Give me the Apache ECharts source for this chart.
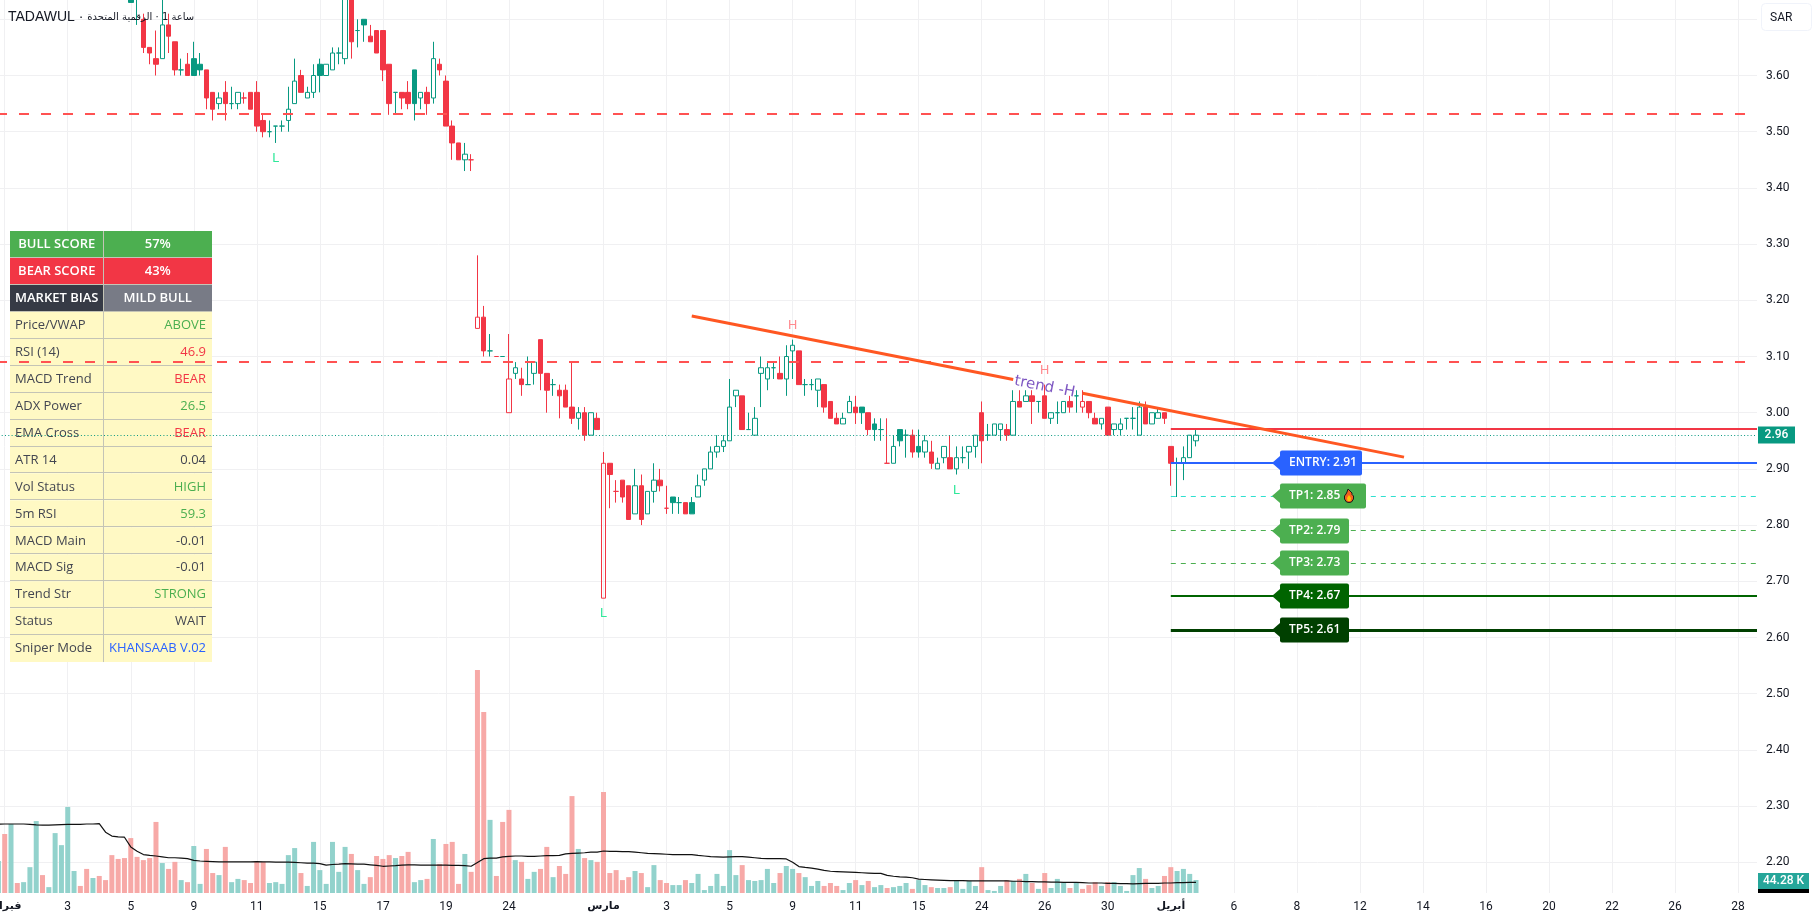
<!DOCTYPE html>
<html>
<head>
<meta charset="utf-8">
<title>TADAWUL</title>
<script src="https://cdn.jsdelivr.net/npm/echarts@6/dist/echarts.min.js"></script>
<style>
  html, body { margin: 0; padding: 0; background: #fff; overflow: hidden; }
  #main { width: 1815px; height: 921px; }
</style>
</head>
<body>
<div id="main"></div>
<script>
var slotCount = 280;

var tickSlots = [1, 11, 21, 31, 41, 51, 61, 71, 81, 96, 106, 116, 126, 136, 146, 156, 166, 176, 186, 196, 206, 216, 226, 236, 246, 256, 266, 276];
var tickTexts = ['فبراير', '3', '5', '9', '11', '15', '17', '19', '24', 'مارس', '3', '5', '9', '11', '15', '24', '26', '30', 'أبريل', '6', '8', '12', '14', '16', '20', '22', '26', '28'];
var monthTexts = ['فبراير', 'مارس', 'أبريل'];

// candles before this slot are above the visible price range
var firstCandleSlot = 21;

// open, close, low, high
var candles = [
  [3.76,3.73,3.73,3.80],[3.76,3.74,3.69,3.78],[3.70,3.65,3.64,3.71],[3.65,3.64,3.62,3.65],[3.63,3.62,3.60,3.68],
  [3.63,3.69,3.63,3.76],[3.69,3.67,3.64,3.71],[3.66,3.61,3.60,3.66],[3.61,3.61,3.60,3.63],[3.62,3.60,3.60,3.64],
  [3.63,3.60,3.60,3.66],[3.62,3.61,3.60,3.64],[3.61,3.56,3.54,3.61],[3.57,3.54,3.52,3.57],[3.55,3.56,3.54,3.57],
  [3.57,3.55,3.52,3.59],[3.55,3.55,3.54,3.58],[3.55,3.57,3.54,3.57],[3.56,3.56,3.55,3.57],[3.57,3.54,3.54,3.57],
  [3.57,3.51,3.50,3.59],[3.52,3.50,3.49,3.53],[3.50,3.50,3.49,3.52],[3.51,3.51,3.48,3.51],[3.51,3.51,3.50,3.52],
  [3.52,3.54,3.50,3.58],[3.55,3.59,3.55,3.63],[3.60,3.57,3.57,3.61],[3.56,3.57,3.56,3.58],[3.57,3.60,3.56,3.62],
  [3.62,3.60,3.57,3.63],[3.60,3.62,3.60,3.62],[3.61,3.64,3.61,3.65],[3.64,3.64,3.62,3.65],[3.63,3.76,3.62,3.78],
  [3.76,3.66,3.63,3.78],[3.68,3.68,3.65,3.70],[3.70,3.69,3.66,3.70],[3.67,3.66,3.66,3.69],[3.68,3.64,3.64,3.68],
  [3.68,3.61,3.59,3.68],[3.62,3.55,3.53,3.62],[3.57,3.57,3.53,3.57],[3.57,3.56,3.54,3.57],[3.57,3.55,3.54,3.59],
  [3.61,3.55,3.52,3.61],[3.56,3.57,3.54,3.57],[3.57,3.55,3.53,3.58],[3.56,3.63,3.55,3.66],[3.62,3.61,3.60,3.63],
  [3.59,3.51,3.51,3.60],[3.51,3.48,3.45,3.52],[3.48,3.45,3.45,3.48],[3.45,3.46,3.43,3.48],[3.45,3.45,3.43,3.46],
  [3.15,3.17,3.15,3.28],[3.17,3.11,3.10,3.19],[3.11,3.11,3.10,3.14],[3.10,3.10,3.10,3.10],[3.10,3.10,3.10,3.10],
  [3.00,3.06,3.00,3.14],[3.07,3.08,3.06,3.09],[3.06,3.05,3.03,3.08],[3.05,3.05,3.05,3.10],[3.07,3.09,3.05,3.09],
  [3.13,3.07,3.04,3.13],[3.07,3.04,3.00,3.07],[3.05,3.05,3.03,3.06],[3.04,3.03,2.99,3.05],[3.04,3.01,3.01,3.05],
  [3.01,2.99,2.98,3.09],[2.99,3.00,2.97,3.01],[3.00,2.96,2.95,3.01],[2.96,3.00,2.96,3.00],[2.99,2.97,2.97,3.00],
  [2.67,2.91,2.67,2.93],[2.91,2.89,2.83,2.91],[2.86,2.86,2.84,2.88],[2.88,2.85,2.84,2.88],[2.87,2.81,2.81,2.87],
  [2.82,2.87,2.82,2.90],[2.87,2.81,2.80,2.89],[2.82,2.86,2.82,2.86],[2.86,2.88,2.84,2.91],[2.88,2.87,2.86,2.90],
  [2.83,2.83,2.82,2.87],[2.85,2.84,2.82,2.85],[2.84,2.84,2.82,2.85],[2.84,2.82,2.82,2.84],[2.84,2.82,2.82,2.85],
  [2.85,2.87,2.85,2.89],[2.88,2.90,2.87,2.90],[2.90,2.93,2.90,2.94],[2.93,2.94,2.92,2.96],[2.94,2.95,2.93,2.96],
  [2.95,3.01,2.95,3.06],[3.03,3.04,3.01,3.04],[3.03,2.97,2.97,3.03],[2.97,2.97,2.97,3.00],[2.96,2.99,2.96,3.01],
  [3.07,3.08,3.01,3.10],[3.06,3.08,3.04,3.09],[3.08,3.08,3.06,3.09],[3.07,3.06,3.06,3.10],[3.06,3.10,3.03,3.12],
  [3.11,3.12,3.06,3.13],[3.11,3.05,3.05,3.11],[3.05,3.05,3.03,3.06],[3.05,3.05,3.04,3.06],[3.04,3.06,3.01,3.06],
  [3.05,3.01,3.00,3.05],[3.02,2.99,2.99,3.02],[2.99,2.98,2.98,3.00],[2.98,2.99,2.98,3.00],[3.00,3.02,3.00,3.03],
  [3.01,3.00,2.98,3.03],[3.01,3.00,2.98,3.01],[3.00,2.97,2.96,3.00],[2.98,2.97,2.95,2.99],[2.97,2.97,2.95,2.99],
  [2.91,2.91,2.91,2.99],[2.91,2.94,2.91,2.96],[2.97,2.95,2.94,2.97],[2.96,2.96,2.92,2.97],[2.96,2.93,2.92,2.97],
  [2.94,2.93,2.92,2.97],[2.93,2.95,2.92,2.96],[2.93,2.91,2.90,2.95],[2.90,2.91,2.90,2.92],[2.92,2.94,2.91,2.94],
  [2.92,2.90,2.90,2.96],[2.90,2.92,2.89,2.94],[2.92,2.92,2.91,2.94],[2.93,2.94,2.90,2.94],[2.94,2.96,2.92,2.96],
  [3.00,2.95,2.91,3.02],[2.96,2.96,2.95,2.98],[2.96,2.98,2.96,2.98],[2.97,2.98,2.95,2.98],[2.97,2.96,2.95,2.98],
  [2.96,3.02,2.96,3.04],[3.02,3.01,3.01,3.04],[3.02,3.03,3.02,3.04],[3.03,3.02,2.98,3.04],[3.02,3.02,3.00,3.02],
  [3.03,2.99,2.99,3.05],[2.99,3.00,2.98,3.00],[3.00,3.00,2.98,3.02],[3.00,3.02,3.00,3.02],[3.02,3.01,3.00,3.03],
  [3.03,3.03,3.00,3.04],[3.01,3.02,3.00,3.04],[3.02,3.00,2.99,3.02],[2.99,2.98,2.98,3.00],[2.98,2.99,2.97,2.99],
  [3.01,2.96,2.96,3.01],[2.97,2.98,2.96,2.98],[2.97,2.98,2.96,2.99],[2.99,2.99,2.97,2.99],[2.99,2.99,2.97,3.01],
  [2.96,3.01,2.96,3.02],[3.01,2.98,2.98,3.02],[2.98,3.00,2.98,3.00],[2.99,3.00,2.99,3.01],[3.00,2.99,2.98,3.00],
  [2.94,2.91,2.87,2.94],[2.91,2.91,2.85,2.92],[2.91,2.92,2.88,2.94],[2.92,2.96,2.92,2.96],[2.95,2.96,2.94,2.97]
];

// volume in thousands, one per slot from slot 0
var volumes = [
  109,201,235,34,37,88,245,61,20,204, 163,293,75,24,82,51,58,44,129,116,
  119,187,123,112,119,242,102,82,106,44, 37,160,31,150,68,61,157,37,48,44,
  34,109,106,34,37,31,129,153,68,24, 174,78,31,174,72,157,133,78,31,54,
  126,116,129,119,126,140,37,44,48,184, 99,167,174,31,133,72,759,616,249,58,
  242,283,112,106,48,72,82,157,54,92, 65,330,150,119,112,106,344,68,78,44,
  54,75,68,20,95,44,34,27,27,44, 34,65,10,24,65,24,146,61,95,44,
  41,44,82,34,68,92,82,68,54,24, 41,24,34,24,10,34,44,27,41,20,
  27,17,20,24,34,14,44,27,20,17, 17,20,41,14,41,24,88,10,7,24,
  44,41,48,65,34,14,68,17,48,37, 17,37,14,27,37,24,37,37,24,7,
  61,85,48,17,24,58,88,75,82,65, 44.28
];
var volumeDirections =
  'grgrgggrgg' + 'gggrrgrrrr' + 'rrrrrrgrrg' + 'rggrrgrggr' + 'rrrgggggrg' +
  'ggggggrggr' + 'rrrgrrggrg' + 'rrrrgrrrgr' + 'rrgrggrrgr' + 'rrgrgrrrrr' +
  'rgrggrrggr' + 'ggggggggrg' + 'ggggrggrgg' + 'grrrggrgrg' + 'grgggrggrg' +
  'grggggrggg' + 'rgrgrgrggg' + 'rgrrrgrggg' + 'ggrggrrggg' + 'g';
var volumeAverage = [
  234,235,235,235,235,234,232,231,231,232, 233,234,234,234,235,235,236,207,194,191,
  190,157,142,131,128,126,123,120,120,119, 117,111,109,108,107,106,106,106,106,106,
  106,107,106,106,105,105,105,104,103,102, 102,100,95,97,98,100,99,98,98,96,
  94,91,92,93,95,96,96,95,95,95, 95,95,94,94,93,91,104,117,119,119,
  123,125,126,126,125,125,126,127,127,128, 133,135,136,137,139,139,143,142,142,141,
  141,139,137,135,134,133,132,131,131,131, 131,128,126,124,123,122,123,124,124,122,
  120,118,117,117,117,116,105,90,87,85, 81,77,74,73,72,71,70,69,68,67,
  67,60,57,55,54,52,47,46,45,44, 43,42,42,42,41,41,41,41,41,41,
  41,40,40,39,39,38,38,37,37,36, 36,36,35,34,34,34,33,33,32,32,
  31,32,33,33,33,34,34,35,35,36, 36
];

var priceTicks = { min: 2.1, max: 3.8, step: 0.1 };
var lastPrice = 2.96;
var lastVolumeText = '44.28 K';
var lastVolume = 44.28;

var resistanceLevels = [3.532, 3.09];
var tradeStartSlot = 186;
var lastSlot = 279;
var tradeLevels = [
  { name: 'STOP', price: 2.971, color: '#F23645', width: 2, dash: 'solid' },
  { name: 'ENTRY', price: 2.911, color: '#2962FF', width: 2, dash: 'solid' },
  { name: 'TP1', price: 2.851, color: '#2EE0CF', width: 1, dash: [5, 5] },
  { name: 'TP2', price: 2.79, color: '#4CAF50', width: 1, dash: [5, 5] },
  { name: 'TP3', price: 2.732, color: '#4CAF50', width: 1, dash: [5, 5] },
  { name: 'TP4', price: 2.674, color: '#006400', width: 2, dash: 'solid' },
  { name: 'TP5', price: 2.613, color: '#004000', width: 3, dash: 'solid' }
];
var tradeTagSlot = 202;
var tradeTags = [
  { text: 'ENTRY: 2.91', price: 2.911, color: '#2962FF', width: 82 },
  { text: 'TP1: 2.85', price: 2.851, color: '#4CAF50', width: 86, flame: true },
  { text: 'TP2: 2.79', price: 2.79, color: '#4CAF50', width: 69 },
  { text: 'TP3: 2.73', price: 2.732, color: '#4CAF50', width: 69 },
  { text: 'TP4: 2.67', price: 2.674, color: '#006400', width: 69 },
  { text: 'TP5: 2.61', price: 2.613, color: '#004000', width: 69 }
];

var trendSegments = [
  [[110, 3.172], [161, 3.059]],
  [[172, 3.0345], [223, 2.921]]
];
var trendLabel = { slot: 166.4, price: 3.0457, text: 'trend -H' };
var pivots = [[44, 3.452, 'L'], [126, 3.155, 'H'], [96, 2.643, 'L'], [166, 3.075, 'H'], [152, 2.862, 'L']];

var tableLabels = ['BULL SCORE', 'BEAR SCORE', 'MARKET BIAS', 'Price/VWAP', 'RSI (14)', 'MACD Trend', 'ADX Power', 'EMA Cross', 'ATR 14', 'Vol Status', '5m RSI', 'MACD Main', 'MACD Sig', 'Trend Str', 'Status', 'Sniper Mode'];
var tableValues = ['57%', '43%', 'MILD BULL', 'ABOVE', '46.9', 'BEAR', '26.5', 'BEAR', '0.04', 'HIGH', '59.3', '-0.01', '-0.01', 'STRONG', 'WAIT', 'KHANSAAB V.02'];
var tableValueColors = ['#fff', '#fff', '#fff', '#4CAF50', '#F23645', '#F23645', '#4CAF50', '#F23645', '#434651', '#4CAF50', '#4CAF50', '#434651', '#434651', '#4CAF50', '#434651', '#2962FF'];

var UP = '#089981', DOWN = '#F23645';
var GRID = '#F0F0F2';
var FONT = 'Roboto, "DejaVu Sans", sans-serif';
var TABLE_FONT = '"Open Sans", "Noto Sans", sans-serif';

var categories = [];
for (var s = 0; s < slotCount; s++) {
  var at = tickSlots.indexOf(s);
  categories.push(at >= 0 ? tickTexts[at] : '');
}
function isTick(i) { return tickSlots.indexOf(i) >= 0; }

var candleData = [];
for (var i = 0; i < firstCandleSlot; i++) candleData.push(['-', '-', '-', '-']);
candles.forEach(function (c, k) {
  var prev = k > 0 ? candles[k - 1][1] : c[1];
  var col = c[1] >= prev ? UP : DOWN;
  candleData.push({
    value: c,
    itemStyle: {
      color: c[1] > c[0] ? 'transparent' : col,
      color0: col,
      borderColor: col,
      borderColor0: col,
      borderColorDoji: col,
      borderWidth: 1
    }
  });
});

var volumeData = volumes.map(function (v, k) {
  return { value: v, itemStyle: { color: volumeDirections[k] === 'g' ? '#92D2CC' : '#F7A9A7' } };
});

var markLines = [];
resistanceLevels.forEach(function (p) {
  markLines.push([
    { coord: [0, p], lineStyle: { color: '#FF5252', width: 2, type: [10, 12], dashOffset: 1.4 } },
    { coord: [lastSlot, p] }
  ]);
});
markLines.push([
  { coord: [0, lastPrice], lineStyle: { color: UP, width: 1, type: [1, 2.3] } },
  { coord: [lastSlot, lastPrice] }
]);
tradeLevels.forEach(function (l) {
  markLines.push([
    { coord: [tradeStartSlot, l.price], lineStyle: { color: l.color, width: l.width, type: l.dash } },
    { coord: [lastSlot, l.price] }
  ]);
});
trendSegments.forEach(function (seg) {
  markLines.push([
    { coord: seg[0], lineStyle: { color: '#FF5722', width: 3, type: 'solid' } },
    { coord: seg[1] }
  ]);
});

function renderTradeTag(params, api) {
  var tag = tradeTags[params.dataIndex];
  var pt = api.coord([api.value(0), api.value(1)]);
  var x = Math.round(pt[0]), y = Math.round(pt[1]);
  var bodyX = x + 8;
  var kids = [
    { type: 'polygon', shape: { points: [[x, y], [bodyX, y - 7], [bodyX, y + 7]] }, style: { fill: tag.color } },
    { type: 'rect', shape: { x: bodyX, y: y - 12.5, width: tag.width, height: 25, r: 2 }, style: { fill: tag.color } },
    { type: 'text', x: bodyX + 9, y: y, style: { text: tag.text, fill: '#fff', font: '600 12px ' + TABLE_FONT, align: 'left', verticalAlign: 'middle' } }
  ];
  if (tag.flame) {
    var fx = bodyX + 69, fy = y;
    var outer = [[-1, -7], [1, -5], [3, -3], [3, -1.5], [4.5, 0], [4.5, 3], [2.5, 6], [0, 6.5], [-2.5, 6], [-4.5, 3], [-4.5, 0], [-3, -2], [-2, -4]];
    var inner = [[0, -1], [2, 2], [1.5, 5], [-1.5, 5], [-2, 2]];
    kids.push({ type: 'polygon', x: fx, y: fy, shape: { points: outer }, style: { fill: '#F4611E', stroke: '#1a1a1a', lineWidth: 1 } });
    kids.push({ type: 'polygon', x: fx, y: fy, shape: { points: inner }, style: { fill: '#FFC107' } });
  }
  return { type: 'group', children: kids };
}

function renderPivot(params, api) {
  var pv = pivots[params.dataIndex];
  var pt = api.coord([api.value(0), api.value(1)]);
  return {
    type: 'text', x: pt[0], y: pt[1],
    style: { text: pv[2], fill: pv[2] === 'H' ? '#FF8A8F' : '#2FE89A', font: '13px ' + FONT, align: 'center', verticalAlign: 'middle' }
  };
}

function renderTrendLabel(params, api) {
  var pt = api.coord([api.value(0), api.value(1)]);
  return {
    type: 'text', x: pt[0], y: pt[1], rotation: -0.196,
    style: { text: trendLabel.text, fill: '#673AB7', opacity: 0.85, font: '15px "DejaVu Sans", sans-serif', align: 'center', verticalAlign: 'middle' }
  };
}

function renderPriceTag(params, api) {
  var pt = api.coord([api.value(0), api.value(1)]);
  var y = Math.round(pt[1]);
  return {
    type: 'group', children: [
      { type: 'rect', shape: { x: 1758, y: y - 8.5, width: 37, height: 17 }, style: { fill: UP } },
      { type: 'text', x: 1776.5, y: y, style: { text: lastPrice.toFixed(2), fill: '#fff', font: '500 12px ' + FONT, align: 'center', verticalAlign: 'middle' } }
    ]
  };
}

function renderVolumeTag(params, api) {
  var base = api.coord([api.value(0), 0])[1];
  var top = Math.round(api.coord([api.value(0), lastVolume])[1]) - 7;
  return {
    type: 'group', children: [
      { type: 'rect', shape: { x: 1758, y: base - 17, width: 51, height: 17 }, style: { fill: '#000' } },
      { type: 'rect', shape: { x: 1758, y: top, width: 51, height: 16 }, style: { fill: '#26A69A' } },
      { type: 'text', x: 1783.5, y: top + 8, style: { text: lastVolumeText, fill: '#fff', font: '500 12px ' + FONT, align: 'center', verticalAlign: 'middle' } }
    ]
  };
}

// table drawn under the series, over the grid lines
var tableLeft = 10, tableMid = 103.5, tableRight = 212, tableTop = 231, rowHeight = 26.94;
var tableGraphics = [];
tableLabels.forEach(function (label, r) {
  var y = tableTop + r * rowHeight;
  var leftFill = r === 0 ? '#4CAF50' : r === 1 ? '#F23645' : r === 2 ? '#363A45' : '#FFF9C4';
  var rightFill = r === 0 ? '#4CAF50' : r === 1 ? '#F23645' : r === 2 ? '#787B86' : '#FFF9C4';
  tableGraphics.push({ type: 'rect', z: 1, shape: { x: tableLeft, y: y, width: tableMid - tableLeft, height: rowHeight }, style: { fill: leftFill } });
  tableGraphics.push({ type: 'rect', z: 1, shape: { x: tableMid, y: y, width: tableRight - tableMid, height: rowHeight }, style: { fill: rightFill } });
  if (r > 0) {
    tableGraphics.push({ type: 'line', z: 1, shape: { x1: tableLeft, y1: Math.round(y) - 0.5, x2: tableRight, y2: Math.round(y) - 0.5 }, style: { stroke: '#C4C4B6', lineWidth: 1 } });
  }
  var head = r < 3;
  tableGraphics.push({
    type: 'text', z: 1, x: head ? (tableLeft + tableMid) / 2 : tableLeft + 5, y: y + rowHeight / 2,
    style: { text: label, fill: head ? '#fff' : '#434651', font: (head ? '600 ' : '') + '13px ' + TABLE_FONT, align: head ? 'center' : 'left', verticalAlign: 'middle' }
  });
  tableGraphics.push({
    type: 'text', z: 1, x: head ? (tableMid + tableRight) / 2 : tableRight - 6, y: y + rowHeight / 2,
    style: { text: tableValues[r], fill: tableValueColors[r], font: (head ? '600 ' : '') + '13px ' + TABLE_FONT, align: head ? 'center' : 'right', verticalAlign: 'middle' }
  });
});
tableGraphics.push({ type: 'line', z: 1, shape: { x1: tableMid, y1: tableTop, x2: tableMid, y2: tableTop + 16 * rowHeight }, style: { stroke: '#C4C4B6', lineWidth: 1 } });

var unitBox = [
  { type: 'rect', z: 10, shape: { x: 1761.5, y: 3.5, width: 50, height: 27, r: 4 }, style: { fill: '#fff', stroke: '#F0F3FA', lineWidth: 1 } },
  { type: 'text', z: 10, x: 1770, y: 18, style: { text: 'SAR', fill: '#131722', font: '12px ' + FONT, align: 'left', verticalAlign: 'middle' } }
];

var myChart = echarts.init(document.getElementById('main'), null, { renderer: 'canvas' });

var option = {
  animation: false,
  backgroundColor: '#fff',
  title: {
    text: 'TADAWUL · {a|ساعة 1 · الرقمية المتحدة}',
    left: 8, top: 10, padding: 0,
    textStyle: {
      fontSize: 14, fontWeight: 'normal', color: '#131722', fontFamily: '"Liberation Sans", "DejaVu Sans", sans-serif',
      rich: { a: { fontSize: 10, color: '#131722', fontFamily: '"DejaVu Sans", sans-serif' } }
    }
  },
  graphic: { elements: tableGraphics.concat(unitBox) },
  grid: [
    { left: -1.6, top: -36.9, width: 1758.6, height: 955.4, outerBoundsMode: 'none' },
    { left: -1.6, top: 0, width: 1758.6, height: 893, outerBoundsMode: 'none' }
  ],
  xAxis: [
    { type: 'category', gridIndex: 0, data: categories, boundaryGap: false, show: false },
    {
      type: 'category', gridIndex: 1, data: categories, boundaryGap: false,
      axisLine: { show: false }, axisTick: { show: false },
      splitLine: { show: true, interval: isTick, lineStyle: { color: GRID, width: 1 } },
      axisLabel: {
        interval: isTick, margin: 8, hideOverlap: false,
        color: '#131722', fontSize: 12, fontFamily: FONT,
        formatter: function (v) { return monthTexts.indexOf(v) >= 0 ? '{m|' + v + '}' : v; },
        rich: { m: { fontWeight: 'bold', fontSize: 11, color: '#131722', fontFamily: '"DejaVu Sans", sans-serif' } }
      }
    }
  ],
  yAxis: [
    {
      type: 'value', gridIndex: 0, position: 'right', scale: true,
      min: priceTicks.min, max: priceTicks.max, interval: priceTicks.step,
      axisLine: { show: false }, axisTick: { show: false },
      splitLine: { show: true, showMinLine: false, showMaxLine: false, lineStyle: { color: GRID, width: 1 } },
      axisLabel: {
        margin: 9, showMinLabel: false, showMaxLabel: false,
        color: '#131722', fontSize: 12, fontFamily: FONT,
        formatter: function (v) { return v.toFixed(2); }
      }
    },
    { type: 'value', gridIndex: 1, min: 0, max: 3041, show: false, splitLine: { show: false } }
  ],
  series: [
    {
      type: 'bar', name: 'Volume', xAxisIndex: 1, yAxisIndex: 1,
      data: volumeData, barWidth: 5, z: 2, silent: true
    },
    {
      type: 'line', name: 'Volume MA', xAxisIndex: 1, yAxisIndex: 1,
      data: volumeAverage, showSymbol: false, z: 3, silent: true,
      lineStyle: { color: '#111', width: 1.2 }
    },
    {
      type: 'candlestick', name: 'Price', xAxisIndex: 0, yAxisIndex: 0,
      data: candleData, barWidth: 5, z: 4, silent: true, progressive: 0, large: false,
      markLine: { silent: true, symbol: 'none', label: { show: false }, animation: false, data: markLines }
    },
    {
      type: 'custom', name: 'Pivots', xAxisIndex: 0, yAxisIndex: 0, z: 5, silent: true,
      renderItem: renderPivot, data: pivots.map(function (p) { return [p[0], p[1]]; })
    },
    {
      type: 'custom', name: 'Trend label', xAxisIndex: 0, yAxisIndex: 0, z: 5, silent: true,
      renderItem: renderTrendLabel, data: [[Math.round(trendLabel.slot), trendLabel.price]]
    },
    {
      type: 'custom', name: 'Trade tags', xAxisIndex: 0, yAxisIndex: 0, z: 6, silent: true,
      renderItem: renderTradeTag, data: tradeTags.map(function (t) { return [tradeTagSlot, t.price]; })
    },
    {
      type: 'custom', name: 'Price tag', xAxisIndex: 0, yAxisIndex: 0, z: 6, silent: true,
      renderItem: renderPriceTag, data: [[lastSlot, lastPrice]]
    },
    {
      type: 'custom', name: 'Volume tag', xAxisIndex: 1, yAxisIndex: 1, z: 6, silent: true,
      renderItem: renderVolumeTag, data: [[lastSlot, lastVolume]]
    }
  ]
};

myChart.setOption(option);
</script>
</body>
</html>
